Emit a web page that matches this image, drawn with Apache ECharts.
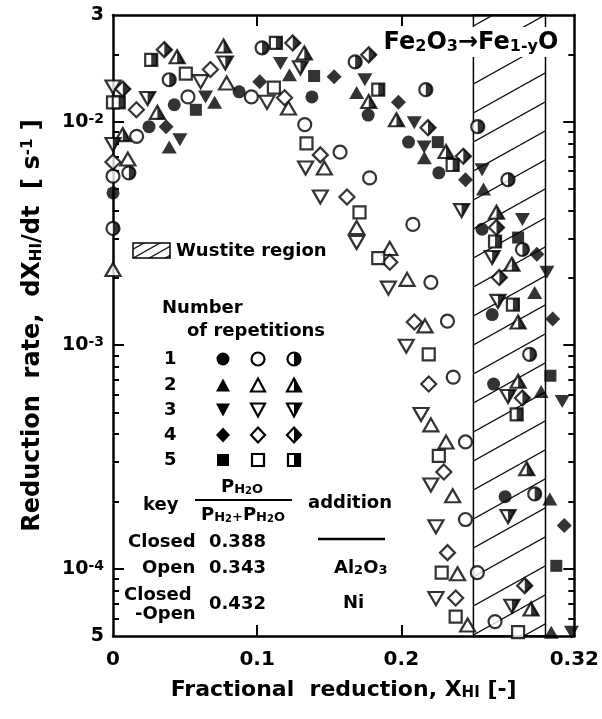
<!DOCTYPE html>
<html>
<head>
<meta charset="utf-8">
<script src="https://cdn.jsdelivr.net/npm/echarts@6/dist/echarts.min.js"></script>
<style>
  html, body { margin: 0; padding: 0; background: #fff; }
  #chart { width: 602px; height: 719px; }
</style>
</head>
<body>
<div id="chart"></div>
<script>
window.addEventListener('load', () => {

// axis ticks / labels
const xLabelValues = [0, 0.1, 0.2, 0.32];
const xLabelText = ['0', '0.1', '0.2', '0.32'];
const xTickValues = [0.1, 0.2];
const yLabelValues = [5e-5, 1e-4, 1e-3, 1e-2, 3e-2];
const yLabelText = ['5', '10{s|-4}', '10{s|-3}', '10{s|-2}', '3'];
const yMajorTicks = [1e-4, 1e-3, 1e-2];
const wustite = [0.25, 0.30];

// repetition 1 (circle)
const closed1 = [[0,4.8e-3],[0.025,9.5e-3],[0.0425,1.19e-2],[0.0875,1.36e-2],[0.138,1.29e-2],[0.177,1.07e-2],[0.205,8.1e-3],[0.226,5.9e-3],[0.256,3.3e-3],[0.263,1.37e-3],[0.264,6.7e-4],[0.272,2.1e-4]];
const open1 = [[0,5.7e-3],[0.0164,8.6e-3],[0.052,1.29e-2],[0.096,1.29e-2],[0.133,9.7e-3],[0.1575,7.3e-3],[0.178,5.6e-3],[0.208,3.47e-3],[0.2205,1.91e-3],[0.232,1.28e-3],[0.236,7.2e-4],[0.2445,3.69e-4],[0.2445,1.66e-4],[0.2527,9.6e-5],[0.265,5.8e-5]];
const half1 = [[0,3.33e-3],[0.011,5.9e-3],[0.039,1.54e-2],[0.1034,2.14e-2],[0.168,1.85e-2],[0.217,1.39e-2],[0.253,9.5e-3],[0.274,5.5e-3],[0.284,2.68e-3],[0.289,9.1e-4],[0.2925,2.16e-4]];
// repetition 2 (triangle up)
const closed2 = [[0.039,7.7e-3],[0.0705,1.22e-2],[0.1224,1.62e-2],[0.169,1.35e-2],[0.216,6.9e-3],[0.257,5.0e-3],[0.2925,1.72e-3],[0.297,6.2e-4],[0.303,2.05e-4],[0.304,5.2e-5]];
const open2 = [[0,2.18e-3],[0.0103,6.8e-3],[0.0788,1.49e-2],[0.1217,1.15e-2],[0.1466,6.2e-3],[0.169,3.36e-3],[0.192,2.71e-3],[0.204,1.97e-3],[0.2164,1.22e-3],[0.2205,4.4e-4],[0.231,3.69e-4],[0.2356,2.12e-4],[0.239,9.5e-5],[0.246,5.6e-5]];
const half2 = [[0.0068,8.75e-3],[0.0308,1.1e-2],[0.0445,1.95e-2],[0.0767,2.18e-2],[0.1327,2.03e-2],[0.1774,1.23e-2],[0.1966,1.02e-2],[0.231,7.35e-3],[0.266,3.93e-3],[0.2767,2.3e-3],[0.281,1.27e-3],[0.281,6.9e-4],[0.287,2.8e-4],[0.290,6.6e-5]];
// repetition 3 (triangle down)
const closed3 = [[0.0464,8.3e-3],[0.0642,1.29e-2],[0.1162,1.82e-2],[0.1747,1.54e-2],[0.209,9.9e-3],[0.2158,7.7e-3],[0.256,6.1e-3],[0.284,3.65e-3],[0.301,2.12e-3],[0.3116,5.6e-4],[0.318,5.2e-5]];
const open3 = [[0,1.43e-2],[0.0608,1.51e-2],[0.1068,1.22e-2],[0.1336,6.2e-3],[0.1438,4.6e-3],[0.169,2.88e-3],[0.191,1.8e-3],[0.2034,9.9e-4],[0.2137,4.9e-4],[0.2205,2.37e-4],[0.224,1.54e-4],[0.224,7.35e-5]];
const half3 = [[0,7.9e-3],[0.024,1.27e-2],[0.0779,1.83e-2],[0.130,1.74e-2],[0.2418,4.0e-3],[0.263,2.47e-3],[0.267,1.57e-3],[0.274,5.9e-4],[0.274,1.71e-4],[0.2767,6.8e-5]];
// repetition 4 (diamond)
const closed4 = [[0.0368,9.5e-3],[0.1018,1.51e-2],[0.1534,1.59e-2],[0.198,1.22e-2],[0.2445,5.5e-3],[0.294,2.55e-3],[0.305,1.31e-3],[0.313,1.56e-4]];
const open4 = [[0,6.6e-3],[0.0162,1.13e-2],[0.0676,1.71e-2],[0.119,1.28e-2],[0.1438,7.1e-3],[0.1623,4.6e-3],[0.192,2.35e-3],[0.209,1.27e-3],[0.219,6.7e-4],[0.2295,2.71e-4],[0.232,1.18e-4],[0.2377,7.4e-5]];
const half4 = [[0.0068,1.4e-2],[0.0356,2.1e-2],[0.1247,2.25e-2],[0.1774,1.99e-2],[0.2185,9.4e-3],[0.243,7.0e-3],[0.266,3.36e-3],[0.268,2.01e-3],[0.284,5.8e-4],[0.2856,8.4e-5]];
// repetition 5 (square)
const closed5 = [[0.0575,1.13e-2],[0.1395,1.6e-2],[0.2253,8.1e-3],[0.281,3.03e-3],[0.3034,7.3e-4],[0.3075,1.03e-4]];
const open5 = [[0,1.22e-2],[0.0505,1.64e-2],[0.1116,1.42e-2],[0.1342,8.0e-3],[0.171,3.93e-3],[0.184,2.45e-3],[0.219,9.1e-4],[0.226,3.2e-4],[0.228,9.6e-5],[0.2377,6.1e-5],[0.281,5.2e-5]];
const half5 = [[0.004,1.22e-2],[0.0265,1.89e-2],[0.113,2.25e-2],[0.184,1.39e-2],[0.2356,6.4e-3],[0.265,2.91e-3],[0.2774,1.52e-3],[0.280,4.9e-4]];

const reps = [
  [closed1, open1, half1],
  [closed2, open2, half2],
  [closed3, open3, half3],
  [closed4, open4, half4],
  [closed5, open5, half5]
];

const FONT = 'DejaVu Sans';

// marker shapes, one per repetition
const shapes = [
  { symbol: 'circle', size: [13, 13], rotate: 0, half: 'path://M0,0A10,10 0 0 1 0,20Z', halfSize: [6.5, 13],
    poly: null, halfPoly: null },
  { symbol: 'triangle', size: [15, 13], rotate: 0, half: 'path://M0,0L10,20L0,20Z', halfSize: [7.5, 13],
    poly: [[0,-6.5],[7,6.5],[-7,6.5]], halfPoly: [[0,-6.5],[7,6.5],[0,6.5]] },
  { symbol: 'triangle', size: [15, 13], rotate: 180, half: 'path://M0,0L10,0L0,20Z', halfSize: [7.5, 13],
    poly: [[-7,-6.5],[7,-6.5],[0,6.5]], halfPoly: [[0,-6.5],[7,-6.5],[0,6.5]] },
  { symbol: 'diamond', size: [15, 15], rotate: 0, half: 'path://M0,0L10,10L0,20Z', halfSize: [7.5, 15],
    poly: [[0,-7.5],[7,0],[0,7.5],[-7,0]], halfPoly: [[0,-7.5],[7,0],[0,7.5]] },
  { symbol: 'rect', size: [12, 12], rotate: 0, half: 'path://M0,0L10,0L10,20L0,20Z', halfSize: [6, 12],
    poly: [[-6,-6],[6,-6],[6,6],[-6,6]], halfPoly: [[0,-6],[6,-6],[6,6],[0,6]] }
];

// hatch patterns (plot band and small legend box)
const makeHatch = (w, h, lw) => {
  const c = document.createElement('canvas');
  c.width = w; c.height = h;
  const ctx = c.getContext('2d');
  ctx.strokeStyle = '#111';
  ctx.lineWidth = lw;
  for (let k = -1; k <= 1; k++) {
    ctx.beginPath();
    ctx.moveTo(0, h + k * h);
    ctx.lineTo(w, k * h);
    ctx.stroke();
  }
  return { image: c, repeat: 'repeat' };
};
const hatchFill = makeHatch(52, 29, 1.3);
const hatchSmall = makeHatch(16, 9, 1.2);

const minorTicks = [];
[-5, -4, -3, -2].forEach(e => {
  for (let m = 2; m <= 9; m++) {
    const v = m * Math.pow(10, e);
    if (v > 5e-5 && v < 3e-2) minorTicks.push(v);
  }
});

const yBase = (pos, ticks, len, withLine) => ({
  type: 'log', logBase: 10, min: 5e-5, max: 3e-2, position: pos,
  axisLine: { show: withLine, lineStyle: { color: '#000', width: 2.5 } },
  axisTick: { show: true, inside: true, length: len, customValues: ticks, lineStyle: { color: '#000', width: 2 } },
  axisLabel: { show: false },
  splitLine: { show: false }
});

const yMain = yBase('left', yMajorTicks, 11, true);
yMain.axisLabel = {
  show: true, customValues: yLabelValues, margin: 9,
  formatter: v => yLabelText[yLabelValues.findIndex(t => Math.abs(t - v) / t < 1e-6)],
  color: '#000', fontFamily: FONT, fontWeight: 'bold', fontSize: 19,
  rich: { s: { fontFamily: FONT, fontWeight: 'bold', fontSize: 14, verticalAlign: 'top', color: '#000' } }
};
yMain.name = '{a|Reduction  rate,  dX}{b|HI}{a|/dt  [ s}{c|-1}{a| ]}';
yMain.nameLocation = 'middle';
yMain.nameGap = 68;
yMain.nameTextStyle = {
  rich: {
    a: { fontFamily: FONT, fontWeight: 'bold', fontSize: 24, color: '#000' },
    b: { fontFamily: FONT, fontWeight: 'bold', fontSize: 15, color: '#000', verticalAlign: 'bottom' },
    c: { fontFamily: FONT, fontWeight: 'bold', fontSize: 15, color: '#000', verticalAlign: 'top' }
  }
};

const series = [{
  type: 'scatter', data: [], silent: true,
  markArea: {
    silent: true,
    itemStyle: { color: hatchFill, borderColor: '#000', borderWidth: 1.5 },
    data: [[{ xAxis: wustite[0] }, { xAxis: wustite[1] }]]
  }
}];

reps.forEach((r, i) => {
  const s = shapes[i];
  const base = { type: 'scatter', symbol: s.symbol, symbolSize: s.size, symbolRotate: s.rotate,
    clip: false, silent: true, emphasis: { disabled: true } };
  const openStyle = { color: '#fff', borderColor: '#000', borderWidth: 2.2 };
  series.push(Object.assign({}, base, { name: 'closed' + (i + 1), data: r[0], itemStyle: { color: '#000' } }));
  series.push(Object.assign({}, base, { name: 'open' + (i + 1), data: r[1], itemStyle: openStyle }));
  series.push(Object.assign({}, base, { name: 'half' + (i + 1), data: r[2], itemStyle: openStyle }));
  series.push({ type: 'scatter', name: 'half' + (i + 1) + 'fill', data: r[2], symbol: s.half,
    symbolSize: s.halfSize, symbolOffset: [s.halfSize[0] / 2, 0], z: 3,
    clip: false, silent: true, emphasis: { disabled: true }, itemStyle: { color: '#000' } });
});

// legend drawing helpers
const txt = (text, x, y, opt) => ({
  type: 'text', x: x, y: y, z: 50,
  style: Object.assign({ text: text, fill: '#000', fontFamily: FONT, fontWeight: 'bold', fontSize: 18,
    align: 'left', verticalAlign: 'middle' }, opt || {})
});

const marker = (s, kind, cx, cy) => {
  const els = [];
  const st = kind === 'closed' ? { fill: '#000' } : { fill: '#fff', stroke: '#000', lineWidth: 2.2 };
  if (s.poly) {
    els.push({ type: 'polygon', z: 50, shape: { points: s.poly.map(p => [cx + p[0], cy + p[1]]) }, style: st });
  } else {
    els.push({ type: 'circle', z: 50, shape: { cx: cx, cy: cy, r: 6.5 }, style: st });
  }
  if (kind === 'half') {
    if (s.halfPoly) {
      els.push({ type: 'polygon', z: 51, shape: { points: s.halfPoly.map(p => [cx + p[0], cy + p[1]]) }, style: { fill: '#000' } });
    } else {
      els.push({ type: 'sector', z: 51, shape: { cx: cx, cy: cy, r: 6.5, r0: 0, startAngle: -Math.PI / 2, endAngle: Math.PI / 2, clockwise: true }, style: { fill: '#000' } });
    }
  }
  return els;
};

const sub = { fontFamily: FONT, fontWeight: 'bold', fontSize: 13, verticalAlign: 'bottom', fill: '#000' };
const sub2 = { fontFamily: FONT, fontWeight: 'bold', fontSize: 10, verticalAlign: 'bottom', fill: '#000' };
const big = { fontFamily: FONT, fontWeight: 'bold', fontSize: 18, fill: '#000' };

const graphics = [
  txt('{p|Fe}{s|2}{p|O}{s|3}{p|→Fe}{s|1-y}{p|O}', 471, 42, {
    align: 'center', backgroundColor: '#fff', padding: [4, 4, 2, 4],
    rich: {
      p: { fontFamily: FONT, fontWeight: 'bold', fontSize: 24, fill: '#000' },
      s: { fontFamily: FONT, fontWeight: 'bold', fontSize: 16, fill: '#000', verticalAlign: 'bottom' }
    }
  }),
  { type: 'rect', z: 50, shape: { x: 133, y: 243, width: 37, height: 15 },
    style: { fill: hatchSmall, stroke: '#000', lineWidth: 1.5 } },
  txt('Wustite region', 176, 251),
  txt('Number', 162, 308),
  txt('of repetitions', 187, 331),
  txt('key', 143, 505),
  txt('{p|P}{s|H}{t|2}{s|O}', 242, 487, { align: 'center', rich: { p: big, s: sub, t: sub2 } }),
  { type: 'line', z: 50, shape: { x1: 195, y1: 500, x2: 292, y2: 500 }, style: { stroke: '#000', lineWidth: 2 } },
  txt('{p|P}{s|H}{t|2}{s|+}{p|P}{s|H}{t|2}{s|O}', 243, 515, { align: 'center', rich: { p: big, s: sub, t: sub2 } }),
  txt('addition', 308, 503),
  txt('Closed', 128, 542),
  txt('0.388', 209, 542),
  { type: 'line', z: 50, shape: { x1: 318, y1: 539, x2: 385, y2: 539 }, style: { stroke: '#000', lineWidth: 2.5 } },
  txt('Open', 142, 568),
  txt('0.343', 209, 568),
  txt('{p|Al}{s|2}{p|O}{s|3}', 334, 568, { rich: { p: big, s: sub } }),
  txt('Closed', 124, 595),
  txt('-Open', 135, 614),
  txt('0.432', 209, 604),
  txt('Ni', 343, 603)
];

const rowY = [359, 385, 410, 435, 460];
const colX = [223, 258, 294];
shapes.forEach((s, i) => {
  graphics.push(txt(String(i + 1), 164, rowY[i]));
  ['closed', 'open', 'half'].forEach((k, j) => {
    marker(s, k, colX[j], rowY[i]).forEach(e => graphics.push(e));
  });
});

const chart = echarts.init(document.getElementById('chart'), null, { renderer: 'canvas' });
chart.setOption({
  animation: false,
  backgroundColor: '#fff',
  grid: { left: 113, top: 15, right: 24, bottom: 83, containLabel: false },
  xAxis: [{
    type: 'value', min: 0, max: 0.32, position: 'bottom',
    axisLine: { onZero: false, lineStyle: { color: '#000', width: 2.5 } },
    axisTick: { inside: true, length: 11, customValues: xTickValues, lineStyle: { color: '#000', width: 2 } },
    axisLabel: {
      customValues: xLabelValues, margin: 14,
      formatter: v => xLabelText[xLabelValues.findIndex(t => Math.abs(t - v) < 1e-9)],
      color: '#000', fontFamily: FONT, fontWeight: 'bold', fontSize: 20
    },
    splitLine: { show: false },
    name: 'Fractional  reduction, X{b|HI} [-]',
    nameLocation: 'middle', nameGap: 43,
    nameTextStyle: {
      fontFamily: FONT, fontWeight: 'bold', fontSize: 22, color: '#000',
      rich: { b: { fontFamily: FONT, fontWeight: 'bold', fontSize: 15, color: '#000', verticalAlign: 'bottom' } }
    }
  }, {
    type: 'value', min: 0, max: 0.32, position: 'top',
    axisLine: { onZero: false, lineStyle: { color: '#000', width: 2.5 } },
    axisTick: { inside: true, length: 11, customValues: xTickValues, lineStyle: { color: '#000', width: 2 } },
    axisLabel: { show: false },
    splitLine: { show: false }
  }],
  yAxis: [
    yMain,
    yBase('left', minorTicks, 6, false),
    yBase('right', yMajorTicks, 11, true),
    yBase('right', minorTicks, 6, false)
  ],
  series: series,
  graphic: graphics
});

});
</script>
</body>
</html>
